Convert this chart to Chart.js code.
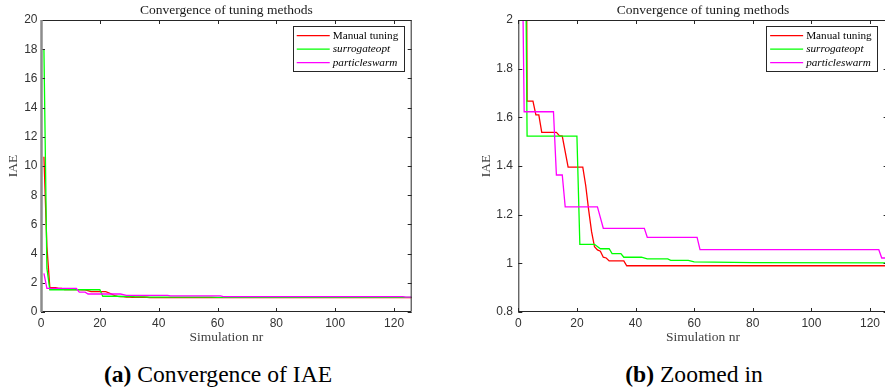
<!DOCTYPE html>
<html>
<head>
<meta charset="utf-8">
<script src="https://cdn.jsdelivr.net/npm/chart.js@4.4.1/dist/chart.umd.min.js"></script>
<style>
  html, body { margin: 0; padding: 0; width: 885px; height: 390px; overflow: hidden; background: #fff; }
  canvas { position: absolute; top: 0; }
  #chartA { left: 0; }
  #chartB { left: 440px; }
  .caption {
    position: absolute; top: 360px; transform: translateX(-50%);
    font-family: "Liberation Serif", serif; font-size: 23.6px; line-height: 28px;
    white-space: nowrap; color: #000;
  }
  #capA { left: 218px; }
  #capB { left: 694px; }
</style>
</head>
<body>
<canvas id="chartA" width="440" height="350"></canvas>
<canvas id="chartB" width="450" height="350"></canvas>
<div class="caption" id="capA"><b>(a)</b> Convergence of IAE</div>
<div class="caption" id="capB"><b>(b)</b> Zoomed in</div>

<script>
// --- valeurs (points de rupture des courbes) ---
const manualX = [1, 2, 3, 5, 6, 7, 8, 13, 14, 15, 17, 22, 23, 24, 25, 26, 27, 28, 29, 30, 31, 36, 37, 126];
const manualY = [10.64, 4.5, 1.667, 1.667, 1.61, 1.61, 1.538, 1.538, 1.525, 1.523, 1.395, 1.395, 1.32, 1.22, 1.13, 1.068, 1.055, 1.05, 1.025, 1.022, 1.01, 1.01, 0.99, 0.99];

const surrogateX = [1, 2, 3, 20, 21, 26, 28, 31, 32, 35, 36, 42, 44, 51, 52, 58, 60, 80, 126];
const surrogateY = [17.95, 3.0, 1.523, 1.523, 1.078, 1.078, 1.06, 1.06, 1.04, 1.04, 1.025, 1.025, 1.018, 1.018, 1.012, 1.012, 1.006, 1.003, 1.002];

const swarmX = [1, 2, 12, 13, 15, 16, 27, 29, 43, 44, 61, 62, 123, 124, 126];
const swarmY = [2.65, 1.623, 1.623, 1.363, 1.363, 1.232, 1.232, 1.144, 1.144, 1.107, 1.107, 1.056, 1.056, 1.022, 1.022];

const seriesLabels = ['Manual tuning', 'surrogateopt', 'particleswarm'];
const italicLabels = [false, true, true];
const seriesColors = ['#ff0000', '#00ff00', '#ff00ff'];

const xTicks = [0, 20, 40, 60, 80, 100, 120];
const yTicksFull = [0, 2, 4, 6, 8, 10, 12, 14, 16, 18, 20];
const yTicksZoom = [0.8, 1, 1.2, 1.4, 1.6, 1.8, 2];

const serif = '"Liberation Serif", "Times New Roman", serif';
Chart.defaults.font.family = '"Liberation Sans", Arial, sans-serif';

const toPoints = (xs, ys) => xs.map((x, i) => ({ x: x, y: ys[i] }));

// cadre + graduations intérieures façon MATLAB, et légende encadrée
const matlabFrame = {
  id: 'matlabFrame',
  afterDatasetsDraw(chart, args, opts) {
    const { ctx, chartArea: a, scales: { x, y } } = chart;
    ctx.save();
    ctx.strokeStyle = '#262626';
    ctx.lineWidth = 1;
    ctx.beginPath();
    x.ticks.forEach(t => {
      const px = Math.round(x.getPixelForValue(t.value)) + 0.5;
      ctx.moveTo(px, a.bottom); ctx.lineTo(px, a.bottom - 4);
      ctx.moveTo(px, a.top); ctx.lineTo(px, a.top + 4);
    });
    y.ticks.forEach(t => {
      const py = Math.round(y.getPixelForValue(t.value)) + 0.5;
      ctx.moveTo(a.left, py); ctx.lineTo(a.left + 4, py);
      ctx.moveTo(a.right, py); ctx.lineTo(a.right - 4, py);
    });
    ctx.stroke();
    // haut, droite, bas
    ctx.beginPath();
    ctx.moveTo(a.left, a.top + 0.5); ctx.lineTo(a.right - 0.5, a.top + 0.5);
    ctx.lineTo(a.right - 0.5, a.bottom - 0.5); ctx.lineTo(a.left, a.bottom - 0.5);
    ctx.stroke();
    // gauche
    ctx.strokeStyle = opts.leftColor;
    ctx.lineWidth = opts.leftWidth;
    ctx.beginPath();
    ctx.moveTo(a.left + 0.5, a.top); ctx.lineTo(a.left + 0.5, a.bottom);
    ctx.stroke();

    // légende
    const sets = chart.data.datasets;
    const fonts = sets.map((d, i) => (italicLabels[i] ? 'italic ' : '') + '11.2px ' + serif);
    let textW = 0;
    sets.forEach((d, i) => { ctx.font = fonts[i]; textW = Math.max(textW, ctx.measureText(d.label).width); });
    const w = 4 + 33 + 3 + textW + 5, h = 44.7;
    const left = a.right - opts.legendGap - w, top = a.top + 6;
    ctx.fillStyle = '#fff';
    ctx.fillRect(left, top, w, h);
    ctx.strokeStyle = '#262626';
    ctx.lineWidth = 1;
    ctx.strokeRect(Math.round(left) + 0.5, Math.round(top) + 0.5, Math.round(w), Math.round(h));
    sets.forEach((d, i) => {
      const yy = top + 9.7 + i * 13.5;
      ctx.strokeStyle = d.borderColor;
      ctx.lineWidth = 1.3;
      ctx.beginPath(); ctx.moveTo(left + 4, yy); ctx.lineTo(left + 37, yy); ctx.stroke();
      ctx.font = fonts[i];
      ctx.fillStyle = '#000';
      ctx.textBaseline = 'middle';
      ctx.textAlign = 'left';
      ctx.fillText(d.label, left + 40, yy);
    });
    ctx.restore();
  }
};

function makeChart(id, cfg) {
  const series = [toPoints(manualX, manualY), toPoints(surrogateX, surrogateY), toPoints(swarmX, swarmY)];
  return new Chart(document.getElementById(id), {
    type: 'line',
    data: {
      datasets: series.map((pts, i) => ({
        label: seriesLabels[i],
        data: pts,
        borderColor: seriesColors[i],
        borderWidth: 1.3,
        pointRadius: 0,
        tension: 0,
        order: 2 - i   // particleswarm dessus
      }))
    },
    options: {
      responsive: false,
      animation: false,
      events: [],
      layout: { padding: { left: 0, right: cfg.padRight, top: 0, bottom: 0 } },
      plugins: {
        legend: { display: false },
        tooltip: { enabled: false },
        title: {
          display: true,
          fullSize: false,
          text: 'Convergence of tuning methods',
          font: { family: serif, size: 13.5, weight: 'normal' },
          color: '#1a1a1a',
          padding: { top: 1.9, bottom: 1.9 }
        },
        matlabFrame: { leftColor: cfg.leftColor, leftWidth: cfg.leftWidth, legendGap: cfg.legendGap }
      },
      scales: {
        x: {
          type: 'linear',
          min: 0, max: 126,
          grid: { display: false, drawTicks: false },
          border: { display: false },
          afterBuildTicks: s => { s.ticks = xTicks.map(v => ({ value: v })); },
          afterFit: s => { s.height = 38; },
          ticks: { padding: 4, color: '#333', font: { size: 12 }, maxRotation: 0, callback: v => String(v) },
          title: {
            display: true, text: 'Simulation nr',
            font: { family: serif, size: 13.5 }, color: '#404040',
            padding: { top: 0, bottom: 4.4 }
          }
        },
        y: {
          type: 'linear',
          min: cfg.yTicks[0], max: cfg.yTicks[cfg.yTicks.length - 1],
          grid: { display: false, drawTicks: false },
          border: { display: false },
          afterBuildTicks: s => { s.ticks = cfg.yTicks.map(v => ({ value: v })); },
          afterFit: s => { s.width = cfg.yWidth; },
          ticks: { padding: cfg.tickPad, color: '#333', font: { size: 12 }, callback: v => String(v) },
          title: {
            display: true, text: 'IAE',
            font: { family: serif, size: 13.5 }, color: '#404040',
            padding: { top: cfg.titlePad, bottom: 0 }
          }
        }
      }
    },
    plugins: [matlabFrame]
  });
}

makeChart('chartA', { yTicks: yTicksFull, yWidth: 41, padRight: 28.3, tickPad: 3.5, titlePad: 4.9, leftColor: '#8c8c8c', leftWidth: 2.5, legendGap: 8.4 });
makeChart('chartB', { yTicks: yTicksZoom, yWidth: 78.3, padRight: 2.4, tickPad: 5.3, titlePad: 38.6, leftColor: '#262626', leftWidth: 1, legendGap: 10.9 });
</script>
</body>
</html>
